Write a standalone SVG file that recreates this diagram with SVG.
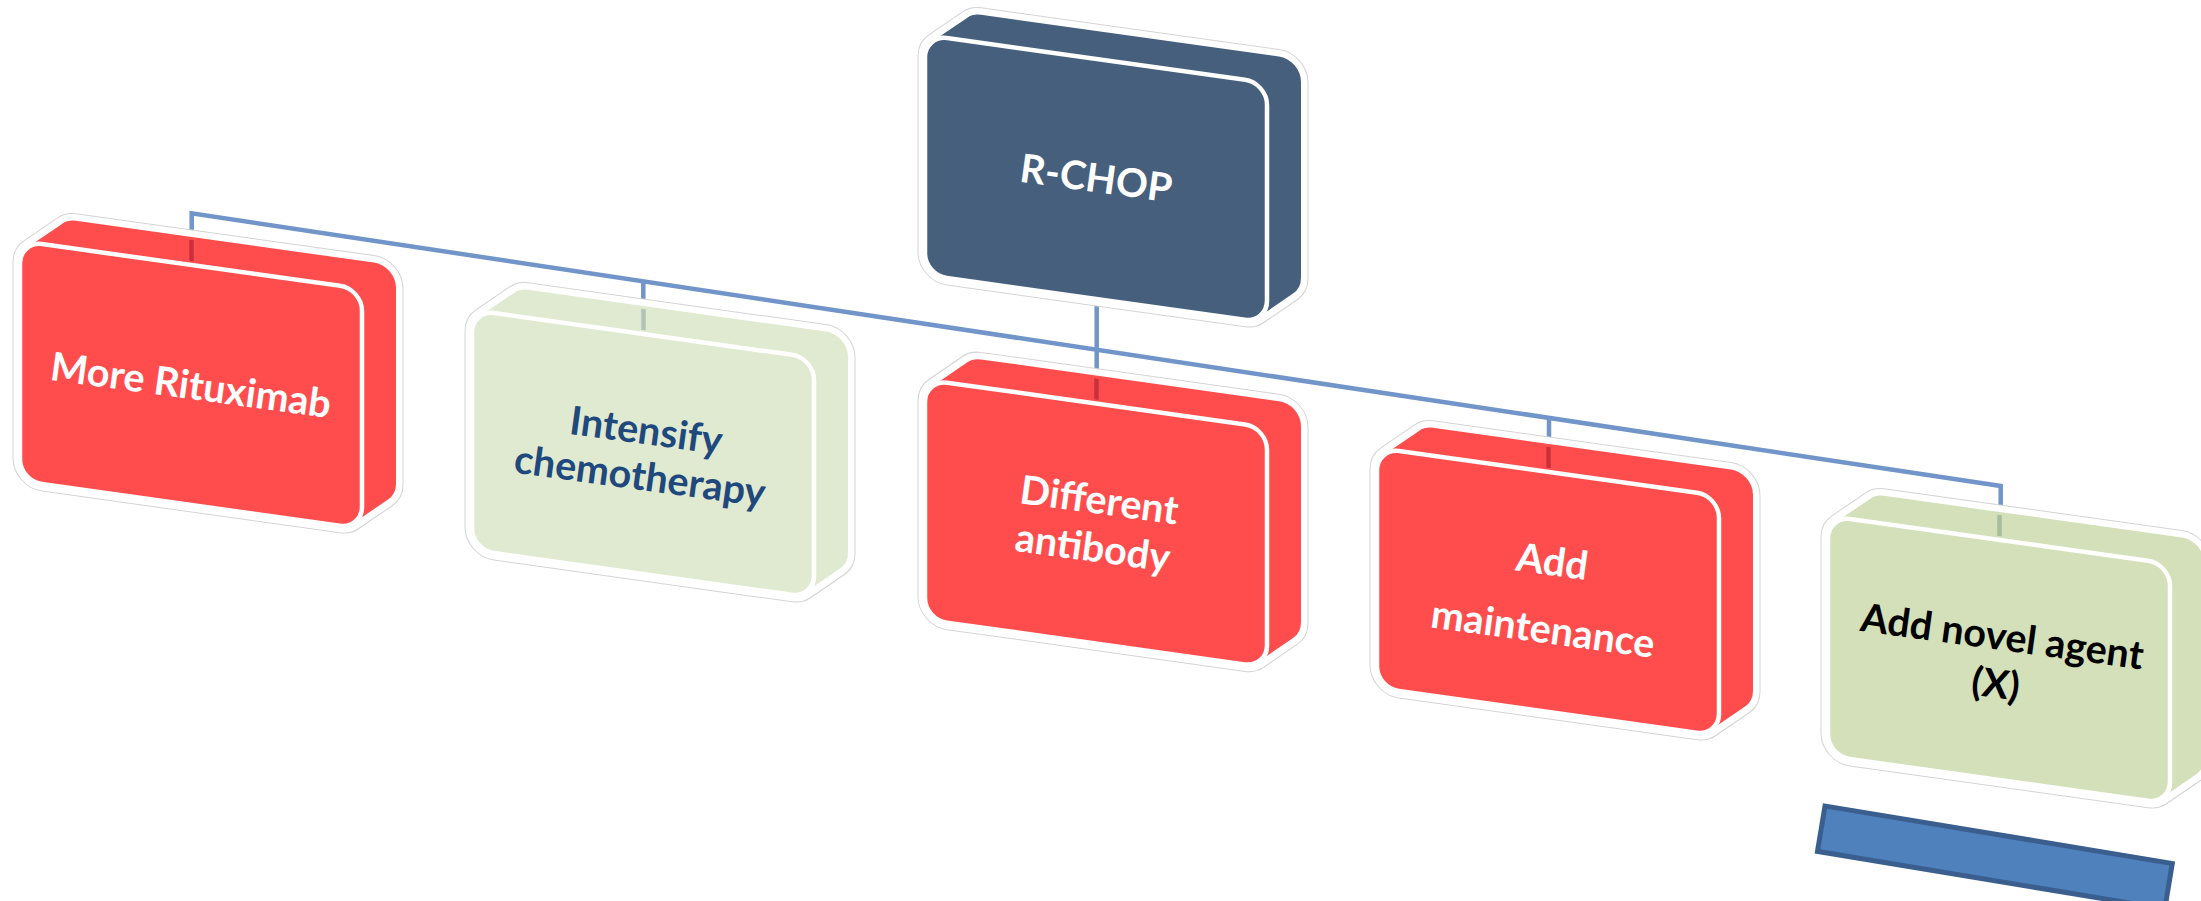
<svg xmlns="http://www.w3.org/2000/svg" width="2201" height="901" viewBox="0 0 2201 901">
  <style>
    .sil-out { fill: none; stroke: #d4d4d4; stroke-width: 15; stroke-linejoin: round; }
    .sil-ring { fill: none; stroke: #ffffff; stroke-width: 13; stroke-linejoin: round; }
    .front { stroke: #ffffff; stroke-width: 4.5; }
    .red { fill: #ff4d4d; }
    .navy { fill: #465f7d; }
    .pale { fill: #e0ead1; }
    .lime { fill: #d3e0b9; }
    .stub { stroke-width: 4.5; }
    .conn { fill: none; stroke: #7295c9; stroke-width: 4.5; stroke-linejoin: miter; }
    .lbl { font-family: Lato, "Liberation Sans", sans-serif; font-weight: 700; font-size: 39.5px; text-anchor: middle; }
    .w { fill: #ffffff; }
    .b { fill: #1f497d; }
    .k { fill: #000000; }
  </style>
  <defs>
    <path id="sil" d="M0,218 L0,22 A22,22 0 0 1 8,5 L42,-23 A22,22 0 0 1 56,-28 L354,-28 A22,22 0 0 1 376,-6 L376,190 A22,22 0 0 1 368,207 L334,235 A22,22 0 0 1 320,240 L22,240 A22,22 0 0 1 0,218 Z"/>
  </defs>
  <rect width="2201" height="901" fill="#ffffff"/>

  <g id="connectors">
    <path class="conn" d="M191.7,236 L191.7,213.3 L2000.7,486 L2000.7,510"/>
    <path class="conn" d="M643.3,281 L643.3,305"/>
    <path class="conn" d="M1096.7,300 L1096.7,372"/>
    <path class="conn" d="M1549,418 L1549,440"/>
  </g>

  <g id="node-rchop" transform="translate(925,35) skewY(7.97)">
    <use href="#sil" class="sil-out"/>
    <use href="#sil" class="sil-ring"/>
    <use href="#sil" class="navy"/>
    <rect class="front navy" x="0" y="0" width="342" height="240" rx="22"/>
  </g>

  <g id="node-rituximab" transform="translate(20,241) skewY(7.97)">
    <use href="#sil" class="sil-out"/>
    <use href="#sil" class="sil-ring"/>
    <use href="#sil" class="red"/>
    <line class="stub" x1="171.5" y1="-25" x2="171.5" y2="-4" stroke="#c9303c"/>
    <rect class="front red" x="0" y="0" width="342" height="240" rx="22"/>
  </g>

  <g id="node-intensify" transform="translate(472,310) skewY(7.97)">
    <use href="#sil" class="sil-out"/>
    <use href="#sil" class="sil-ring"/>
    <use href="#sil" class="pale"/>
    <line class="stub" x1="171.5" y1="-25" x2="171.5" y2="-4" stroke="#b3c3b6"/>
    <rect class="front pale" x="0" y="0" width="342" height="240" rx="22"/>
  </g>

  <g id="node-antibody" transform="translate(925,379.6) skewY(7.97)">
    <use href="#sil" class="sil-out"/>
    <use href="#sil" class="sil-ring"/>
    <use href="#sil" class="red"/>
    <line class="stub" x1="171.5" y1="-25" x2="171.5" y2="-4" stroke="#c9303c"/>
    <rect class="front red" x="0" y="0" width="342" height="240" rx="22"/>
  </g>

  <g id="node-maintenance" transform="translate(1377,448) skewY(7.97)">
    <use href="#sil" class="sil-out"/>
    <use href="#sil" class="sil-ring"/>
    <use href="#sil" class="red"/>
    <line class="stub" x1="171.5" y1="-25" x2="171.5" y2="-4" stroke="#c9303c"/>
    <rect class="front red" x="0" y="0" width="342" height="240" rx="22"/>
  </g>

  <g id="node-novel" transform="translate(1828,516) skewY(7.97)">
    <use href="#sil" class="sil-out"/>
    <use href="#sil" class="sil-ring"/>
    <use href="#sil" class="lime"/>
    <line class="stub" x1="171.5" y1="-25" x2="171.5" y2="-4" stroke="#a8bc9e"/>
    <rect class="front lime" x="0" y="0" width="342" height="240" rx="22"/>
  </g>

  <g id="labels">
    <g transform="translate(1096,179) rotate(7.8)"><text class="lbl w" x="0" y="13">R-CHOP</text></g>
    <g transform="translate(191,385) rotate(7.8)"><text class="lbl w" x="0" y="14">More Rituximab</text></g>
    <g transform="translate(643,454) rotate(7.8)"><text class="lbl b" x="0" y="-10">Intensify</text><text class="lbl b" x="0" y="36">chemotherapy</text></g>
    <g transform="translate(1096,523.6) rotate(7.8)"><text class="lbl w" x="0" y="-10">Different</text><text class="lbl w" x="0" y="38">antibody</text></g>
    <g transform="translate(1548,592) rotate(7.8)"><text class="lbl w" x="0" y="-17">Add</text><text class="lbl w" x="0" y="51">maintenance</text></g>
    <g transform="translate(1999,660) rotate(7.8)"><text class="lbl k" x="0" y="-10">Add novel agent</text><text class="lbl k" x="0" y="38">(X)</text></g>
  </g>

  <g id="node-bar">
    <rect x="0" y="0" width="352" height="46" transform="translate(1825,806) rotate(9.4)" fill="#4f81bd" stroke="#3a5f8f" stroke-width="5"/>
  </g>
</svg>
